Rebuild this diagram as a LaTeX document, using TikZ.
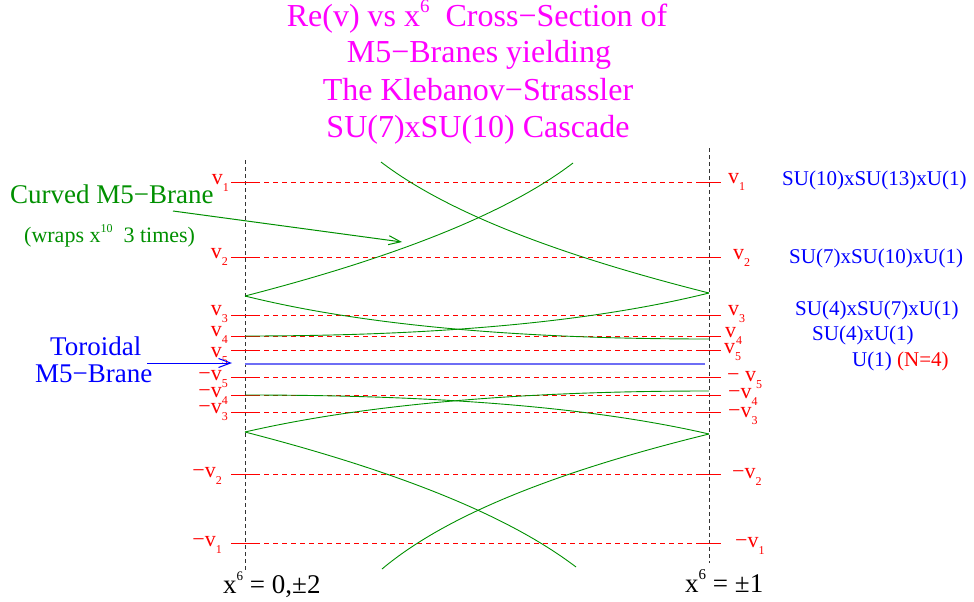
\documentclass[tikz,border=0pt]{standalone}
\usepackage{fontspec}
\setmainfont{Liberation Serif}
\usetikzlibrary{arrows.meta}
\definecolor{brgreen}{RGB}{0,144,0}
\definecolor{brblue}{RGB}{0,0,255}
\definecolor{brred}{RGB}{255,0,0}
\definecolor{brmag}{RGB}{255,0,255}
\definecolor{lineblue}{RGB}{110,110,245}
\newcommand\vsub[1]{v\raisebox{-0.32em}{\fontsize{12}{12}\selectfont #1}}
\newcommand\supsc[2]{\raisebox{#1}{\fontsize{#2}{#2}\selectfont 6}}
\begin{document}
\begin{tikzpicture}[x=1pt,y=-1pt,
  titletext/.style={font=\fontsize{32}{36}\selectfont, text=brmag, anchor=base, inner sep=0pt},
  grouptext/.style={font=\fontsize{21}{24}\selectfont, text=brblue, anchor=base west, inner sep=0pt},
  vlabL/.style={font=\fontsize{22}{24}\selectfont, text=brred, anchor=base east, inner sep=0pt},
  vlabR/.style={font=\fontsize{22}{24}\selectfont, text=brred, anchor=base west, inner sep=0pt},
  sidetext/.style={font=\fontsize{27}{30}\selectfont, anchor=base west, inner sep=0pt},
  axisline/.style={draw=black!80, dash pattern=on 4pt off 3pt, line width=0.9pt},
  levelline/.style={draw=brred, dash pattern=on 5pt off 4pt, line width=0.9pt},
  tickline/.style={draw=brred, line width=1pt},
  brane/.style={draw=brgreen, line width=0.9pt},
  pointer/.style={line width=1pt, -{Straight Barb[length=12pt,width=9pt]}},
  bottomtext/.style={font=\fontsize{27}{30}\selectfont, text=black, anchor=base west, inner sep=0pt}
]
\useasboundingbox[fill=white] (0,0) rectangle (974,602);

% title
\node[titletext] (t1) at (477,27) {Re(v) vs x\supsc{0.45em}{19}\ \ Cross−Section of};
\node[titletext] (t2) at (479,63) {M5−Branes yielding};
\node[titletext] (t3) at (478,100) {The Klebanov−Strassler};
\node[titletext] (t4) at (478,137) {SU(7)xSU(10) Cascade};

% vertical dashed axes
\coordinate (LT) at (245,160); \coordinate (LB) at (245,570);
\coordinate (RT) at (709,148); \coordinate (RB) at (709,563);
\draw[axisline] (LT) -- (LB);
\draw[axisline] (RT) -- (RB);

% levels
\foreach \n/\y in {p1/182, p2/257, p3/315, p4/336, p5/350, m5/377, m4/395, m3/412, m2/474, m1/543} {
  \coordinate (La\n) at (231,\y);
  \coordinate (Lb\n) at (255,\y);
  \coordinate (Ra\n) at (699,\y);
  \coordinate (Rb\n) at (721,\y);
  \draw[tickline] (La\n) -- (Lb\n);
  \draw[levelline] (Lb\n) -- (Ra\n);
  \draw[tickline] (Ra\n) -- (Rb\n);
}

% toroidal brane line
\coordinate (TL) at (245,364); \coordinate (TR) at (705,364);
\draw[draw=lineblue, line width=1.3pt] (TL) -- (TR);

% left labels
\node[vlabL] (lp1) at (229,184) {\vsub{1}};
\node[vlabL] (lp2) at (228,258) {\vsub{2}};
\node[vlabL] (lp3) at (228,315) {\vsub{3}};
\node[vlabL] (lp4) at (228,336) {\vsub{4}};
\node[vlabL] (lp5) at (228,357) {\vsub{5}};
\node[vlabL] (lm5) at (228,380) {−\vsub{5}};
\node[vlabL] (lm4) at (228,397) {−\vsub{4}};
\node[vlabL] (lm3) at (228,413) {−\vsub{3}};
\node[vlabL] (lm2) at (222,477) {−\vsub{2}};
\node[vlabL] (lm1) at (222,546) {−\vsub{1}};

% right labels
\node[vlabR] (rp1) at (728,183) {\vsub{1}};
\node[vlabR] (rp2) at (733,259) {\vsub{2}};
\node[vlabR] (rp3) at (728,315) {\vsub{3}};
\node[vlabR] (rp4) at (725,337) {\vsub{4}};
\node[vlabR] (rp5) at (724,353) {\vsub{5}};
\node[vlabR] (rm5) at (727,381) {−\ \vsub{5}};
\node[vlabR] (rm4) at (728,398) {−\vsub{4}};
\node[vlabR] (rm3) at (728,417) {−\vsub{3}};
\node[vlabR] (rm2) at (732,478) {−\vsub{2}};
\node[vlabR] (rm1) at (735,547) {−\vsub{1}};

% group labels
\node[grouptext] (g1) at (782,185) {SU(10)xSU(13)xU(1)};
\node[grouptext] (g2) at (789,263) {SU(7)xSU(10)xU(1)};
\node[grouptext] (g3) at (795,315) {SU(4)xSU(7)xU(1)};
\node[grouptext] (g4) at (812,340) {SU(4)xU(1)};
\node[grouptext] (g5) at (852,366) {U(1) \textcolor{brred}{(N=4)}};

% curved M5-brane
\coordinate (kL1) at (245,296); \coordinate (kR1) at (709,293);
\coordinate (kL2) at (245,432); \coordinate (kR2) at (709,434);
\coordinate (Atop) at (573,163); \coordinate (Btop) at (381,162);
\coordinate (Cend) at (709,339); \coordinate (Dend) at (245,336);
\coordinate (Eend) at (709,391); \coordinate (Fend) at (245,395);
\coordinate (Gend) at (576,567); \coordinate (Hend) at (382,569);
\draw[brane] (kL1) .. controls (400,256) and (509,212) .. (Atop);
\draw[brane] (Btop) .. controls (445,211) and (554,254) .. (kR1);
\draw[brane] (kL1) .. controls (362,325) and (516,339) .. (Cend);
\draw[brane] (kR1) .. controls (592,322) and (438,336) .. (Dend);
\draw[brane] (kL2) .. controls (362,405) and (516,391) .. (Eend);
\draw[brane] (kR2) .. controls (592,407) and (438,395) .. (Fend);
\draw[brane] (kL2) .. controls (400,472) and (509,516) .. (Gend);
\draw[brane] (kR2) .. controls (554,472) and (445,516) .. (Hend);

% side annotations
\node[sidetext, text=brgreen] (curved) at (10,203) {Curved M5−Brane};
\node[font=\fontsize{22}{24}\selectfont, text=brgreen, anchor=base west, inner sep=0pt] (wraps) at (24,242) {(wraps x\raisebox{0.45em}{\fontsize{12}{12}\selectfont 10}\ \ 3 times)};
\coordinate (ca1) at (173,211); \coordinate (ca2) at (402,242);
\draw[pointer, brgreen] (ca1) -- (ca2);

\node[sidetext, text=brblue] (toro) at (50,355) {Toroidal};
\node[sidetext, text=brblue] (m5b) at (35,382) {M5−Brane};
\coordinate (ta1) at (147,363); \coordinate (ta2) at (232,363);
\draw[pointer, brblue] (ta1) -- (ta2);

% bottom labels
\node[bottomtext] (b1) at (223,593) {x\supsc{0.45em}{13} = 0,±2};
\node[bottomtext] (b2) at (685,592) {x\supsc{0.45em}{15} = ±1};
\end{tikzpicture}
\end{document}
